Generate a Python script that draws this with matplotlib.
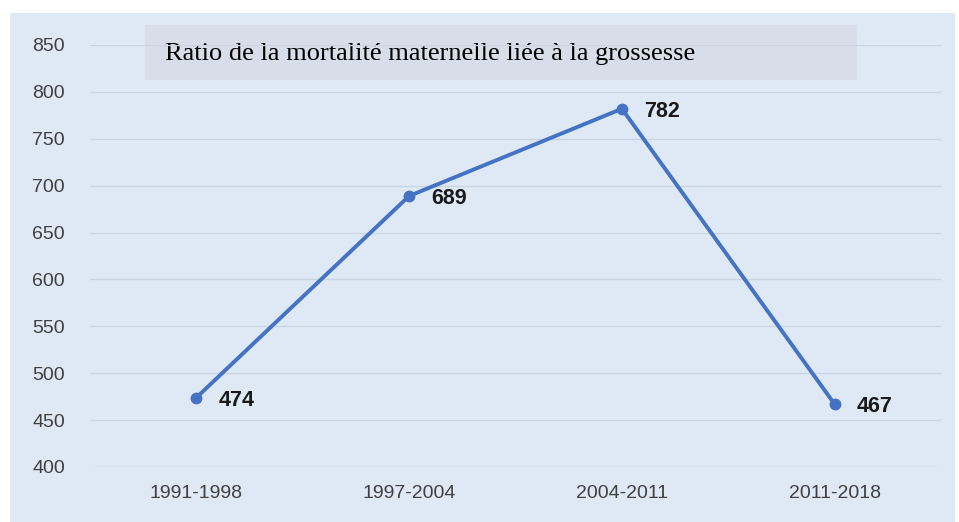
import matplotlib.pyplot as plt
from matplotlib.patches import Rectangle

periods = ['1991-1998', '1997-2004', '2004-2011', '2011-2018']
ratio = [474, 689, 782, 467]
yticks = [400, 450, 500, 550, 600, 650, 700, 750, 800, 850]
title = 'Ratio de la mortalité maternelle liée à la grossesse'

plt.rcParams['font.family'] = 'Liberation Sans'

fig = plt.figure(figsize=(9.59, 5.22), dpi=100)
fig.patch.set_facecolor('white')

# light blue panel behind everything
fig.patches.append(Rectangle((10/959, 0), 945/959, 509/522, transform=fig.transFigure,
                             facecolor='#dfe9f5', edgecolor='none', zorder=0))
# title box
fig.patches.append(Rectangle((145/959, 1-80/522), 712/959, 55/522, transform=fig.transFigure,
                             facecolor='#d7deea', edgecolor='none', zorder=1))
fig.text(165/959, 1-54/522, title, family='Liberation Serif', fontsize=19,
         color='black', va='center', ha='left', zorder=2)

ax = fig.add_axes([90/959, 1-467/522, 851/959, 422/522])
ax.set_zorder(5)
ax.set_facecolor('none')
x = range(len(periods))
ax.plot(x, ratio, color='#4472c4', lw=2.8, marker='o', markersize=7.5, zorder=3)
for i, v in enumerate(ratio):
    ax.annotate(str(v), (i, v), xytext=(16, -2), textcoords='offset points',
                fontsize=15.5, fontweight='bold', color='#1a1a1a', va='center', ha='left')

ax.set_xlim(-0.5, 3.5)
ax.set_ylim(400, 850)
ax.set_yticks(yticks)
ax.set_xticks(list(x))
ax.set_xticklabels(periods)
ax.yaxis.grid(True, color='#c9d5e4', lw=1)
ax.set_axisbelow(True)
for s in ax.spines.values():
    s.set_visible(False)
ax.tick_params(length=0, labelsize=14, labelcolor='#404040')
ax.tick_params(axis='y', pad=18)
ax.tick_params(axis='x', pad=13)

fig.savefig('out.png', dpi=100)
